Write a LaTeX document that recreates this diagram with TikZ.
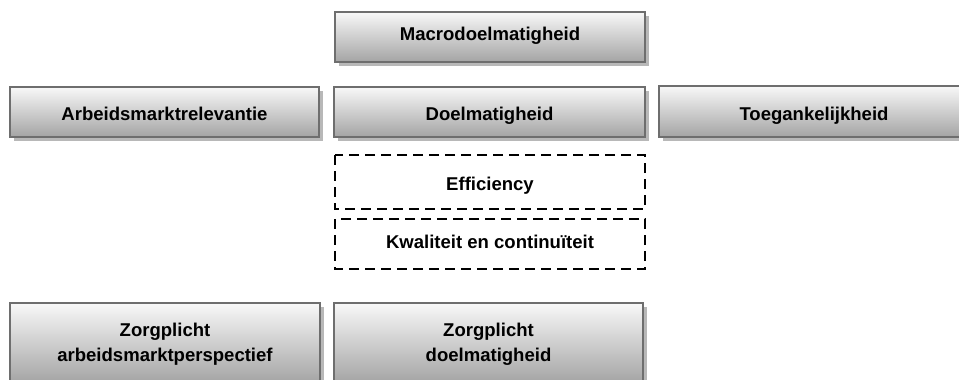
\documentclass[tikz,border=0pt]{standalone}
\usepackage{fontspec}
\setmainfont{Liberation Sans}
\definecolor{boxborder}{HTML}{6E6E6E}
\definecolor{boxtop}{HTML}{F8F8F8}
\definecolor{boxbottom}{HTML}{A4A4A4}
\definecolor{shadowgray}{HTML}{B8B8B8}
% #1..#4 box corners, #5 name, #6 text y (baseline), #7 text
\newcommand{\myshbox}[7]{%
  \fill[shadowgray] (#1+4,#2+4) rectangle (#3+4,#4+4);
  \path[shadebox] (#1,#2) rectangle (#3,#4);
  \node[boxtext, anchor=base] (#5) at ({(#1+#3)/2},#6) {#7};
}
\begin{document}
\begin{tikzpicture}[x=0.75pt,y=-0.75pt,
  boxtext/.style={font=\bfseries\fontsize{13.9}{19.2}\selectfont, align=center, text=black, inner sep=0pt},
  shadebox/.style={draw=boxborder, line width=1.6pt, top color=boxtop, bottom color=boxbottom},
  dashbox/.style={draw=black, line width=1.5pt, dash pattern=on 7.5pt off 4.5pt}
]
\useasboundingbox (0,0) rectangle (959,379);
\clip (0,0) rectangle (959,379);
\myshbox{335}{12}{645}{62}{macro}{40.7}{Macrodoelmatigheid}
\myshbox{10}{87}{319}{137}{arbeid}{120}{Arbeidsmarktrelevantie}
\myshbox{334}{87}{645}{137}{doel}{120}{Doelmatigheid}
\myshbox{659}{86}{969}{137}{toeg}{120}{Toegankelijkheid}
\fill[shadowgray] (14,307) rectangle (324,387);
\path[shadebox] (10,303) rectangle (320,383);
\node[boxtext] (zorga) at (165,344) {Zorgplicht\strut\\arbeidsmarktperspectief\strut};
\fill[shadowgray] (338,307) rectangle (647,387);
\path[shadebox] (334,303) rectangle (643,383);
\node[boxtext] (zorgd) at (488.5,344) {Zorgplicht\strut\\doelmatigheid\strut};
\draw[dashbox] (335,155) rectangle (645,209);
\node[boxtext, anchor=base] (eff) at (490,190.5) {Efficiency};
\draw[dashbox] (335,219) rectangle (645,269);
\node[boxtext, anchor=base] (kwal) at (490,248.5) {Kwaliteit en continuïteit};
\end{tikzpicture}
\end{document}
